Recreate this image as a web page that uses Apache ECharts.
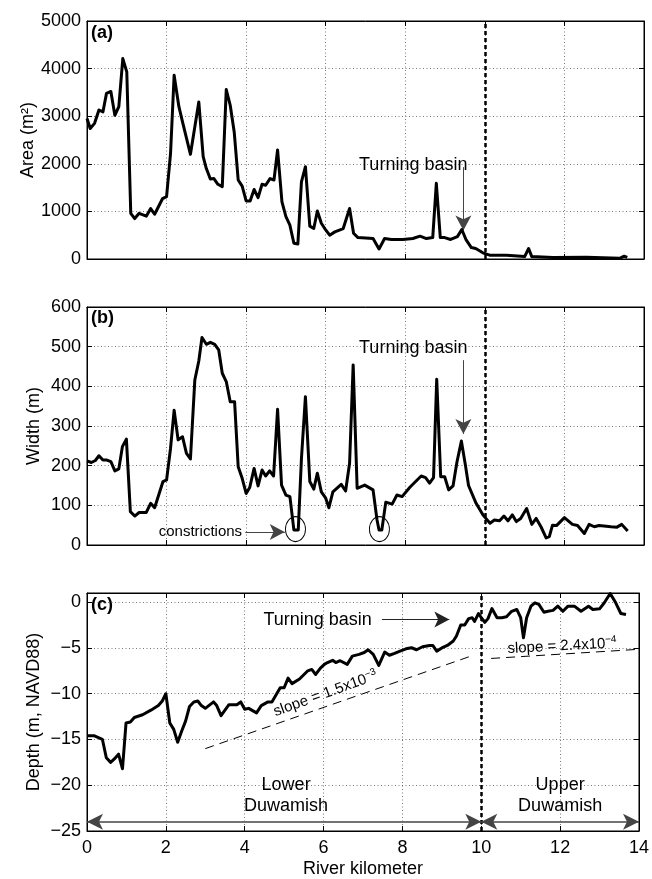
<!DOCTYPE html>
<html>
<head>
<meta charset="utf-8">
<script src="https://cdn.jsdelivr.net/npm/echarts@6/dist/echarts.min.js"></script>
<style>
  html, body { margin: 0; padding: 0; background: #fff; }
  #chart { width: 652px; height: 879px; }
</style>
</head>
<body>
<div id="chart"></div>
<script>
// (a) cross-sectional area
const areaKm = [0,0.08,0.19,0.3,0.4,0.49,0.6,0.7,0.8,0.9,1.0,1.1,1.2,1.31,1.49,1.6,1.7,1.9,2.0,2.1,2.19,2.31,2.41,2.6,2.81,2.92,3.0,3.1,3.19,3.29,3.4,3.5,3.6,3.7,3.8,3.9,4.0,4.1,4.2,4.3,4.4,4.49,4.6,4.7,4.79,4.9,5.0,5.1,5.2,5.3,5.39,5.49,5.6,5.7,5.79,5.89,6.0,6.1,6.23,6.44,6.6,6.7,6.81,7.19,7.34,7.48,7.65,7.94,8.19,8.37,8.53,8.69,8.78,8.88,8.99,9.14,9.31,9.42,9.53,9.66,9.77,9.95,10.12,10.54,11.0,11.1,11.18,11.71,12.55,13.39,13.5,13.58];
const areaVal = [2950,2740,2850,3130,3090,3480,3520,3020,3200,4210,3930,960,850,960,900,1060,940,1270,1310,2220,3860,3200,2850,2200,3300,2150,1900,1680,1690,1570,1520,3560,3230,2670,1660,1530,1220,1220,1460,1290,1570,1550,1690,1660,2290,1200,890,710,330,315,1620,1940,690,640,1010,750,610,500,570,640,1060,540,450,430,210,430,410,410,430,480,430,450,1590,450,450,410,470,620,400,240,220,130,80,80,50,220,50,30,35,15,60,35];

// (b) width
const widthKm = [0,0.11,0.21,0.3,0.4,0.5,0.6,0.7,0.8,0.89,0.99,1.09,1.2,1.31,1.49,1.6,1.7,1.91,2.0,2.1,2.19,2.29,2.4,2.5,2.6,2.71,2.81,2.89,3.0,3.1,3.21,3.31,3.4,3.5,3.6,3.71,3.8,3.9,4.0,4.09,4.2,4.3,4.4,4.49,4.59,4.69,4.79,4.89,5.0,5.1,5.2,5.31,5.39,5.49,5.6,5.7,5.79,5.89,6.0,6.08,6.18,6.39,6.5,6.6,6.69,6.79,6.98,7.19,7.29,7.34,7.41,7.51,7.67,7.79,7.92,8.11,8.26,8.4,8.51,8.61,8.71,8.79,8.89,8.99,9.09,9.2,9.3,9.41,9.51,9.59,9.78,9.95,10.13,10.24,10.37,10.48,10.58,10.69,10.79,10.9,11.05,11.18,11.29,11.41,11.54,11.62,11.7,11.8,12.0,12.2,12.33,12.5,12.62,12.75,12.87,13.17,13.32,13.44,13.59];
const widthVal = [212,208,213,225,214,214,210,187,192,248,267,84,73,82,82,105,94,160,164,244,340,265,273,231,217,416,464,523,506,511,506,492,433,412,361,361,197,168,130,145,193,149,189,174,187,174,342,151,126,122,38,38,218,374,160,141,181,134,118,94,134,153,136,206,454,143,151,139,63,38,38,108,103,126,122,145,160,174,170,156,170,418,172,172,139,149,210,262,202,150,105,76,55,63,61,73,61,76,59,67,92,52,67,46,18,21,50,49,69,52,49,29,52,46,49,46,45,52,35];

// (c) depth
const depthKm = [0,0.19,0.39,0.49,0.6,0.7,0.8,0.9,0.99,1.1,1.2,1.41,1.62,1.81,1.91,2.0,2.1,2.2,2.3,2.4,2.5,2.6,2.71,2.81,2.9,3.0,3.21,3.29,3.4,3.6,3.8,3.9,4.0,4.1,4.3,4.42,4.59,4.69,4.9,5.0,5.1,5.2,5.39,5.6,5.7,5.8,5.92,6.02,6.1,6.23,6.31,6.42,6.6,6.73,6.9,7.03,7.13,7.26,7.4,7.55,7.67,7.8,7.94,8.09,8.23,8.36,8.51,8.69,8.77,8.87,9.0,9.14,9.29,9.37,9.48,9.58,9.68,9.77,9.83,9.93,10.0,10.09,10.17,10.27,10.4,10.52,10.64,10.77,10.9,11.0,11.07,11.15,11.26,11.36,11.46,11.59,11.69,11.82,11.94,12.07,12.2,12.36,12.53,12.72,12.83,13.0,13.12,13.27,13.41,13.54,13.67];
const depthVal = [-14.6,-14.6,-14.98,-17.0,-17.5,-17.1,-16.6,-18.2,-13.2,-13.1,-12.6,-12.3,-11.8,-11.3,-10.8,-10.0,-13.2,-13.9,-15.3,-14.1,-13.0,-11.4,-10.9,-10.8,-11.3,-11.6,-10.9,-11.3,-12.4,-11.2,-11.2,-10.9,-11.7,-11.6,-12.1,-11.3,-10.9,-10.9,-9.35,-9.35,-8.3,-8.9,-8.4,-7.5,-7.35,-7.9,-7.2,-6.8,-6.6,-6.35,-6.6,-6.4,-6.8,-5.9,-5.7,-5.5,-5.2,-5.7,-6.9,-5.45,-5.8,-5.6,-5.35,-5.1,-4.98,-5.2,-4.87,-4.73,-4.73,-5.35,-5.0,-4.73,-4.25,-3.7,-2.5,-2.5,-1.8,-1.7,-2.1,-1.24,-1.7,-2.2,-1.8,-0.7,-1.7,-1.7,-1.6,-1.0,-0.8,-1.7,-3.9,-1.7,-0.44,-0.07,-0.25,-1.1,-1.0,-0.9,-0.44,-1.0,-0.44,-0.44,-1.0,-0.44,-0.8,-0.73,-0.07,0.95,-0.07,-1.24,-1.35];

// fitted slope lines (km, depth)
const slopeLowerKm = [3.0, 9.8];
const slopeLowerVal = [-16.0, -5.8];
const slopeUpperKm = [10.25, 14];
const slopeUpperVal = [-6.15, -5.15];

const boundaryKm = 10;

let chart = echarts.init(document.getElementById('chart'));
let font = 'Liberation Sans, Arial, Helvetica, sans-serif';

const zip = (xs, ys) => xs.map((x, i) => [x, ys[i]]);
const minus = v => String(v).replace('-', '\u2212');

let grids = [
    {left: 87, top: 21, width: 557, height: 238},
    {left: 87, top: 307, width: 557, height: 238},
    {left: 87, top: 593, width: 557, height: 238}
].map(g => Object.assign({show: true, borderColor: '#000', borderWidth: 1, backgroundColor: '#fff'}, g));

let gridLine = {show: true, lineStyle: {color: '#555', width: 0.8, type: [1, 2.5]}};

function xAxis(i, pos, labels) {
    return {
        type: 'value', gridIndex: i, position: pos, min: 0, max: 14, interval: 2,
        axisLine: {show: true, onZero: false, lineStyle: {color: '#000', width: 1}},
        axisTick: {show: true, inside: true, length: 5, lineStyle: {color: '#000'}},
        axisLabel: {show: labels, margin: 8, color: '#000', fontSize: 18, fontFamily: font},
        splitLine: pos === 'bottom' ? gridLine : {show: false},
        name: labels ? 'River kilometer' : '',
        nameLocation: 'middle', nameGap: 29, nameMoveOverlap: false,
        nameTextStyle: {color: '#000', fontSize: 18, fontFamily: font}
    };
}

function yAxis(i, pos, min, max, interval, name, gap) {
    return {
        type: 'value', gridIndex: i, position: pos, min: min, max: max, interval: interval,
        axisLine: {show: true, onZero: false, lineStyle: {color: '#000', width: 1}},
        axisTick: {show: true, inside: true, length: 5, lineStyle: {color: '#000'}},
        axisLabel: {
            show: pos === 'left', margin: 6, color: '#000', fontSize: 18, fontFamily: font,
            formatter: v => (v % interval === 0 ? minus(v) : '')
        },
        splitLine: pos === 'left' ? gridLine : {show: false},
        name: pos === 'left' ? name : '',
        nameLocation: 'middle', nameGap: gap, nameRotate: 90, nameMoveOverlap: false,
        nameTextStyle: {color: '#000', fontSize: 18, fontFamily: font}
    };
}

let tenLine = {
    silent: true, symbol: ['none', 'none'],
    label: {show: false},
    lineStyle: {color: '#000', width: 2.5, type: [4, 3]},
    data: [{xAxis: boundaryKm}]
};

function dataSeries(i, data) {
    return {
        type: 'line', xAxisIndex: i * 2, yAxisIndex: i * 2, data: data,
        showSymbol: false, symbol: 'none',
        lineStyle: {color: '#000', width: 3, join: 'round'},
        z: 5,
        markLine: tenLine
    };
}

function textPoint(coord, text, size, extra) {
    return {
        coord: coord, symbol: 'rect', symbolSize: 1,
        itemStyle: {color: 'rgba(0,0,0,0)'},
        label: Object.assign({
            show: true, position: 'inside', formatter: text,
            color: '#000', fontSize: size, fontFamily: font
        }, extra || {})
    };
}

function helper(i, markLine, markPoint) {
    return {
        type: 'line', xAxisIndex: i * 2, yAxisIndex: i * 2, data: [],
        markLine: markLine, markPoint: markPoint, z: 6
    };
}

function arrowLine(segments, color, width, size, symbols) {
    return {
        silent: true, symbol: symbols || ['none', 'arrow'], symbolSize: size,
        label: {show: false},
        lineStyle: {color: color, width: width, type: 'solid'},
        data: segments.map(s => [{coord: s[0]}, {coord: s[1]}])
    };
}

let supRich = {sup: {fontSize: 10, verticalAlign: 'top', padding: [0, 0, 8, 0], fontFamily: font, color: '#000'}};

let option = {
    animation: false,
    backgroundColor: '#fff',
    grid: grids,
    xAxis: [
        xAxis(0, 'bottom', false), xAxis(0, 'top', false),
        xAxis(1, 'bottom', false), xAxis(1, 'top', false),
        xAxis(2, 'bottom', true), xAxis(2, 'top', false)
    ],
    yAxis: [
        yAxis(0, 'left', 0, 5000, 1000, 'Area (m\u00b2)', 50), yAxis(0, 'right', 0, 5000, 1000, '', 0),
        yAxis(1, 'left', 0, 600, 100, 'Width (m)', 44), yAxis(1, 'right', 0, 600, 100, '', 0),
        yAxis(2, 'left', -25, 1, 5, 'Depth (m, NAVD88)', 44), yAxis(2, 'right', -25, 1, 5, '', 0)
    ],
    graphic: [
        {type: 'text', left: 91, top: 24, style: {text: '(a)', font: 'bold 18px ' + font, fill: '#000'}},
        {type: 'text', left: 91, top: 309, style: {text: '(b)', font: 'bold 18px ' + font, fill: '#000'}},
        {type: 'text', left: 91, top: 596, style: {text: '(c)', font: 'bold 18px ' + font, fill: '#000'}}
    ],
    series: [
        dataSeries(0, zip(areaKm, areaVal)),
        dataSeries(1, zip(widthKm, widthVal)),
        dataSeries(2, zip(depthKm, depthVal)),
        // (a) annotations
        helper(0,
            arrowLine([[[9.46, 1930], [9.46, 600]]], '#444', 1, [12, 15]),
            {data: [textPoint([8.2, 1975], 'Turning basin', 18)]}),
        // (b) annotations
        helper(1,
            arrowLine([[[9.46, 466], [9.46, 280]], [[3.98, 33], [4.97, 33]]], '#444', 1, [12, 15]),
            {data: [
                textPoint([8.2, 497], 'Turning basin', 18),
                textPoint([2.85, 33], 'constrictions', 15),
                {coord: [5.24, 40], symbol: 'circle', symbolSize: [20, 25],
                 itemStyle: {color: 'rgba(0,0,0,0)', borderColor: '#000', borderWidth: 1}, label: {show: false}},
                {coord: [7.35, 40], symbol: 'circle', symbolSize: [20, 25],
                 itemStyle: {color: 'rgba(0,0,0,0)', borderColor: '#000', borderWidth: 1}, label: {show: false}}
            ]}),
        // (c) annotations
        helper(2,
            arrowLine([[[7.48, -1.9], [9.19, -1.9]]], '#222', 1, [12, 15]),
            {data: [
                textPoint([5.85, -1.9], 'Turning basin', 18),
                textPoint([6.05, -10.0], 'slope = 1.5x10{sup|\u22123}', 15, {rotate: 20, rich: supRich}),
                textPoint([12.05, -4.8], 'slope = 2.4x10{sup|\u22124}', 15, {rotate: 3, rich: supRich}),
                textPoint([5.05, -21.1], 'Lower\nDuwamish', 18, {lineHeight: 21, align: 'center'}),
                textPoint([12.0, -21.1], 'Upper\nDuwamish', 18, {lineHeight: 21, align: 'center'})
            ]}),
        helper(2,
            arrowLine([[[0, -24], [boundaryKm, -24]], [[boundaryKm, -24], [14, -24]]], '#444', 1.5, [12, 16], ['arrow', 'arrow'])),
        {
            type: 'line', xAxisIndex: 4, yAxisIndex: 4, data: zip(slopeLowerKm, slopeLowerVal),
            showSymbol: false, symbol: 'none', lineStyle: {color: '#000', width: 1, type: [9, 6]}
        },
        {
            type: 'line', xAxisIndex: 4, yAxisIndex: 4, data: zip(slopeUpperKm, slopeUpperVal),
            showSymbol: false, symbol: 'none', lineStyle: {color: '#000', width: 1, type: [9, 6]}
        }
    ]
};

chart.setOption(option);
</script>
</body>
</html>
